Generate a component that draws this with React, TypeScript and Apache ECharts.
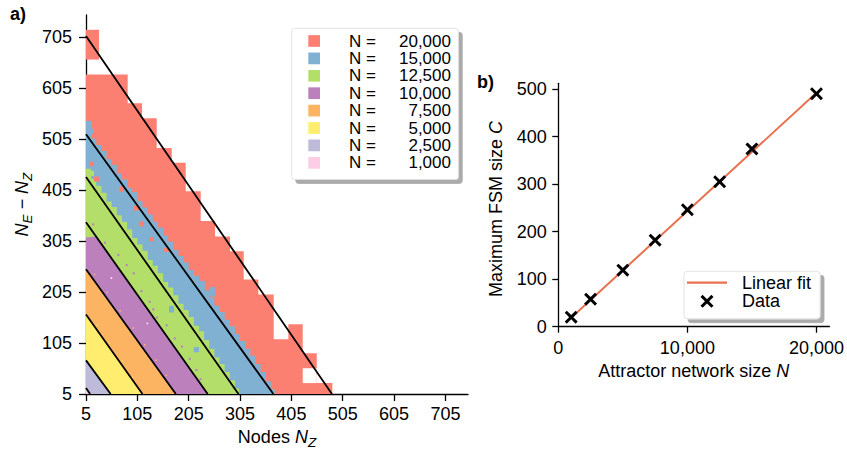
import { useEffect, useRef } from 'react';
import * as echarts from 'echarts';

const FONT = "'Liberation Sans', Arial, Helvetica, sans-serif";
const FS = 18;
const LEG_FS = 17;

// ---------------- Panel a) data ----------------
const N_LABELS = ['20,000', '15,000', '12,500', '10,000', '7,500', '5,000', '2,500', '1,000'];
const REGION_COLORS = ['#FB8072', '#80B1D3', '#B3DE69', '#BC80BD', '#FDB462', '#FFED6F', '#BEBADA', '#FCCDE5'];
const NODE_TICKS = [5, 105, 205, 305, 405, 505, 605, 705];
const EDGE_TICKS = [5, 105, 205, 305, 405, 505, 605, 705];

// diagonal boundary for each N: value of N_E - N_Z at N_Z = 5, and N_Z where it reaches 5
const LINE_START_Y = [708, 515, 431, 342, 250, 161, 71, 17];
const LINE_END_X = [484, 370, 302, 242, 180, 115, 53, 13];

// N = 20,000 (coarse grid): column edges and column tops
const RED_STEP_X = [5, 30.3, 86.2, 114.1, 142.7, 172, 199.2, 228.4, 256.3, 285.5, 312.2, 340.6, 370.6, 399.1, 427.1, 454.4, 484.8];
const RED_STEP_TOP = [632, 632, 576, 546.5, 488, 459, 403, 344.5, 314, 285, 229.6, 200.4, 112.7, 142, 85, 26.4];
const RED_EXTRA_CELLS = [[5, 30.3, 661.5, 720]];

// N = 15,000
const BLUE_STEP_X = [5, 15, 25, 35, 45, 55, 65, 75, 85, 95, 105, 115, 125, 135, 145, 155, 165, 175, 185, 195, 205, 215, 225, 235, 245, 255, 265, 275, 285, 295, 305, 315, 325, 335, 345, 355, 365, 373];
const BLUE_STEP_TOP = [541, 506, 494, 482, 466, 455, 438, 426, 410, 401, 384, 371, 358, 343, 332, 316, 304, 288, 276, 263, 248, 237, 220, 208, 194, 178, 166, 151, 138, 123, 109, 94, 80, 64, 48, 30, 14];

// N = 12,500
const GREEN_STEP_X = [5, 15, 25, 35, 45, 55, 65, 75, 85, 95, 105, 115, 125, 135, 145, 155, 165, 175, 185, 195, 205, 215, 225, 235, 245, 255, 265, 275, 285, 295, 303];
const GREEN_STEP_TOP = [447, 427, 414, 400, 383, 372, 356, 343, 328, 311, 299, 286, 268, 257, 242, 225, 214, 199, 182, 170, 156, 139, 128, 111, 94, 77, 64, 48, 32, 16];

// fine-grid regions: outline vertices (from the N_Z = 5 edge down to the N_Z axis)
const PURPLE_OUTLINE = [[5, 312], [25, 314], [242, 5]];
const ORANGE_OUTLINE = [[5, 250], [180, 5]];
const YELLOW_OUTLINE = [[5, 161], [115, 5]];
const LAVENDER_OUTLINE = [[5, 71], [53, 5]];
const PINK_OUTLINE = [[5, 17], [13, 5]];

// isolated cells [x0, x1, y0, y1]
const RED_SPECKLES = [[12.8, 20.6, 452, 461], [20.6, 30.3, 422, 432], [69, 79, 402, 412], [98.5, 108, 365, 375], [108, 118, 334, 344], [128, 137.5, 305, 313], [157, 167, 284, 292]];
const BLUE_SPECKLES = [[227, 236.6, 207, 227], [246.5, 256, 196, 215], [166.7, 176.4, 165, 178], [215, 225, 87, 97], [10.8, 20.6, 516, 526]];
const GREEN_SPECKLES = [[10.8, 20.6, 433, 443]];
const PURPLE_SPECKLES = [[17, 21, 336, 340], [40, 44, 300, 304], [66, 70, 276, 280], [82, 86, 256, 260], [96, 100, 240, 244], [111, 115, 205, 209], [127, 131, 184, 188], [134, 138, 169, 173], [141, 145, 153, 157], [160, 164, 138, 142], [176, 180, 112, 116], [190, 194, 96, 100], [205, 209, 72, 76], [218, 222, 50, 54], [226, 230, 32, 36]];
const ORANGE_SPECKLES = [[20, 23, 238, 241], [45, 48, 203, 206], [70, 73, 167, 170], [95, 98, 133, 136], [118, 121, 100, 103], [140, 143, 70, 73], [160, 163, 40, 43]];
const YELLOW_SPECKLES = [[25, 27, 138, 141], [50, 52, 104, 107], [75, 77, 68, 71], [95, 97, 36, 39]];
const EMPTY_CELLS = [[427.1, 454.4, 26.4, 55.6], [53, 56, 231, 234], [123, 126, 142, 145]];

// ---------------- Panel b) data ----------------
const NETWORK_SIZE = [1000, 2500, 5000, 7500, 10000, 12500, 15000, 20000];
const MAX_FSM_SIZE = [20, 58, 119, 182, 246, 305, 374, 490];
const FIT_X = [1000, 20000];
const FIT_Y = [19, 492];
const SIZE_TICKS = [0, 10000, 20000];
const FSM_TICKS = [0, 100, 200, 300, 400, 500];

const FIT_COLOR = '#E9704F';
const X_PATH = 'path://M0,1.6L1.6,0L5,3.4L8.4,0L10,1.6L6.6,5L10,8.4L8.4,10L5,6.6L1.6,10L0,8.4L3.4,5Z';
const LINE_ICON = 'path://M0,0L40,0L40,2.2L0,2.2Z';

type Pt = number[];
const stepOutline = (xs: number[], tops: number[]): Pt[] => {
  const pts: Pt[] = [[xs[0], 5]];
  for (let i = 0; i < tops.length; i++) {
    pts.push([xs[i], tops[i]], [xs[i + 1], tops[i]]);
  }
  pts.push([xs[xs.length - 1], 5]);
  return pts;
};
const fromOutline = (o: number[][]): Pt[] => [[5, 5], ...o];
const rectOutline = (c: number[]): Pt[] => [[c[0], c[2]], [c[1], c[2]], [c[1], c[3]], [c[0], c[3]]];

const REGION_SHAPES: Pt[][][] = [
  [stepOutline(RED_STEP_X, RED_STEP_TOP), ...RED_EXTRA_CELLS.map(rectOutline)],
  [stepOutline(BLUE_STEP_X, BLUE_STEP_TOP)],
  [stepOutline(GREEN_STEP_X, GREEN_STEP_TOP)],
  [fromOutline(PURPLE_OUTLINE)],
  [fromOutline(ORANGE_OUTLINE)],
  [fromOutline(YELLOW_OUTLINE)],
  [fromOutline(LAVENDER_OUTLINE)],
  [fromOutline(PINK_OUTLINE)],
];

const SPECKLE_GROUPS: [number[][], string][] = [
  [RED_SPECKLES, REGION_COLORS[0]],
  [BLUE_SPECKLES, REGION_COLORS[1]],
  [GREEN_SPECKLES, REGION_COLORS[2]],
  [PURPLE_SPECKLES, REGION_COLORS[3]],
  [ORANGE_SPECKLES, REGION_COLORS[4]],
  [YELLOW_SPECKLES, REGION_COLORS[5]],
  [EMPTY_CELLS, '#ffffff'],
];
const SPECKLES = SPECKLE_GROUPS.flatMap(([cells, color]) => cells.map((cell) => ({ cell, color })));

const RICH = {
  t: { fontSize: FS, fontFamily: FONT, color: '#000', lineHeight: 24 },
  i: { fontSize: FS, fontFamily: FONT, color: '#000', fontStyle: 'italic', lineHeight: 24 },
  s: { fontSize: 13.5, fontFamily: FONT, color: '#000', fontStyle: 'italic', lineHeight: 15, verticalAlign: 'bottom' },
};

const axisCommon = (ticks: number[], tickLen: number, margin: number, formatter?: (v: number) => string) => ({
  axisLine: { show: true, onZero: false, lineStyle: { color: '#000', width: 1.3 } },
  axisTick: { show: true, inside: false, length: tickLen, customValues: ticks, lineStyle: { color: '#000', width: 1.3 } },
  axisLabel: { customValues: ticks, color: '#000', fontSize: FS, fontFamily: FONT, margin, formatter },
  splitLine: { show: false },
});

export default function App() {
  const ref = useRef<HTMLDivElement>(null);
  useEffect(() => {
    if (!ref.current) return;
    const chart = echarts.init(ref.current, null, { renderer: 'svg' });

    const regionSeries = REGION_SHAPES.map((shapes, k) => ({
      type: 'custom',
      name: N_LABELS[k],
      xAxisIndex: 0,
      yAxisIndex: 0,
      itemStyle: { color: REGION_COLORS[k] },
      silent: true,
      data: shapes.map((s) => ({ value: s[1] })),
      renderItem: (params: any, api: any) => ({
        type: 'polygon',
        shape: { points: shapes[params.dataIndex].map((p) => api.coord(p)) },
        style: { fill: REGION_COLORS[k] },
      }),
    }));

    const speckleSeries = {
      type: 'custom',
      xAxisIndex: 0,
      yAxisIndex: 0,
      silent: true,
      data: SPECKLES.map((s) => ({ value: [s.cell[0], s.cell[2]] })),
      renderItem: (params: any, api: any) => {
        const s = SPECKLES[params.dataIndex];
        const [x0, x1, y0, y1] = s.cell;
        const a = api.coord([x0, y1]);
        const b = api.coord([x1, y0]);
        return {
          type: 'rect',
          shape: { x: a[0], y: a[1], width: b[0] - a[0], height: b[1] - a[1] },
          style: { fill: s.color },
        };
      },
    };

    const boundarySeries = {
      type: 'custom',
      xAxisIndex: 0,
      yAxisIndex: 0,
      silent: true,
      encode: { x: [0, 2], y: [1, 3] },
      data: LINE_START_Y.map((y, i) => [5, y, LINE_END_X[i], 5]),
      renderItem: (params: any, api: any) => {
        const a = api.coord([api.value(0), api.value(1)]);
        const b = api.coord([api.value(2), api.value(3)]);
        return {
          type: 'line',
          shape: { x1: a[0], y1: a[1], x2: b[0], y2: b[1] },
          style: { stroke: '#000', lineWidth: 1.8 },
        };
      },
    };

    const option: any = {
      animation: false,
      textStyle: { fontFamily: FONT },
      grid: [
        { left: 86, top: 15, width: 382, height: 382 },
        { left: 558.3, top: 83.3, width: 271.7, height: 243.4 },
      ],
      xAxis: [
        {
          type: 'value', gridIndex: 0, min: 5, max: 749,
          ...axisCommon(NODE_TICKS, 7, 11),
          name: '{t|Nodes }{i|N}{s|Z}', nameLocation: 'middle', nameGap: 31,
          nameTextStyle: { rich: RICH },
        },
        {
          type: 'value', gridIndex: 1, min: 0, max: 21000,
          ...axisCommon(SIZE_TICKS, 6, 12, (v: number) => v.toLocaleString('en-US')),
          name: '{t|Attractor network size }{i|N}', nameLocation: 'middle', nameGap: 32,
          nameTextStyle: { rich: RICH },
        },
      ],
      yAxis: [
        {
          type: 'value', gridIndex: 0, min: 5, max: 749,
          ...axisCommon(EDGE_TICKS, 7, 14),
          name: '{i|N}{s|E}{t| \u2212 }{i|N}{s|Z}', nameLocation: 'middle', nameGap: 52,
          nameTextStyle: { rich: RICH },
        },
        {
          type: 'value', gridIndex: 1, min: 0, max: 512,
          ...axisCommon(FSM_TICKS, 6, 11.6),
          name: '{t|Maximum FSM size }{i|C}', nameLocation: 'middle', nameGap: 50,
          nameTextStyle: { rich: RICH, padding: [0, 8, 0, 0] },
        },
      ],
      legend: [
        {
          data: N_LABELS.map((name) => ({ name, icon: 'rect' })),
          orient: 'vertical', left: 291.7, top: 28.3,
          itemWidth: 11.7, itemHeight: 11.7, itemGap: 0,
          padding: [4, 7.3, 8, 16.6],
          backgroundColor: '#fff', borderColor: '#dcdcdc', borderWidth: 0.8, borderRadius: 3,
          shadowColor: 'rgba(0,0,0,0.33)', shadowBlur: 0, shadowOffsetX: 4, shadowOffsetY: 4,
          selectedMode: false,
          formatter: (name: string) => `{g|}{n|N =}{v|${name}}`,
          textStyle: {
            fontFamily: FONT, fontSize: LEG_FS, color: '#000', lineHeight: 17.4,
            rich: {
              g: { width: 24 },
              n: { width: 43, fontSize: LEG_FS, fontFamily: FONT, color: '#000', lineHeight: 17.4 },
              v: { width: 59, align: 'right', fontSize: LEG_FS, fontFamily: FONT, color: '#000', lineHeight: 17.4 },
            },
          },
        },
        {
          data: [{ name: 'Linear fit', icon: LINE_ICON }, { name: 'Data' }],
          orient: 'vertical', left: 684, top: 271.3,
          itemWidth: 40, itemHeight: 13, itemGap: 0,
          padding: [2, 9, 8, 3],
          backgroundColor: '#fff', borderColor: '#dcdcdc', borderWidth: 0.8, borderRadius: 3,
          shadowColor: 'rgba(0,0,0,0.33)', shadowBlur: 0, shadowOffsetX: 4, shadowOffsetY: 4,
          selectedMode: false,
          formatter: (name: string) => `{g|}{t|${name}}`,
          textStyle: {
            fontFamily: FONT, fontSize: FS, color: '#000', lineHeight: 18.7,
            rich: {
              g: { width: 10 },
              t: { fontSize: FS, fontFamily: FONT, color: '#000', lineHeight: 18.7 },
            },
          },
        },
      ],
      graphic: [
        { type: 'text', left: 10, top: 5, style: { text: 'a)', font: `bold ${FS}px ${FONT}`, fill: '#000' } },
        { type: 'text', left: 477, top: 73, style: { text: 'b)', font: `bold ${FS}px ${FONT}`, fill: '#000' } },
      ],
      series: [
        ...regionSeries,
        speckleSeries,
        boundarySeries,
        {
          type: 'line', name: 'Linear fit', xAxisIndex: 1, yAxisIndex: 1,
          data: FIT_X.map((x, i) => [x, FIT_Y[i]]),
          symbol: 'none', showSymbol: false,
          lineStyle: { color: FIT_COLOR, width: 2 }, itemStyle: { color: FIT_COLOR },
        },
        {
          type: 'scatter', name: 'Data', xAxisIndex: 1, yAxisIndex: 1,
          data: NETWORK_SIZE.map((x, i) => [x, MAX_FSM_SIZE[i]]),
          symbol: X_PATH, symbolSize: 13, symbolKeepAspect: true,
          itemStyle: { color: '#000', opacity: 1 },
          z: 3,
        },
      ],
    };
    chart.setOption(option);
    return () => chart.dispose();
  }, []);
  return <div ref={ref} style={{ position: 'absolute', left: 0, top: 0, width: 847, height: 454 }} />;
}
